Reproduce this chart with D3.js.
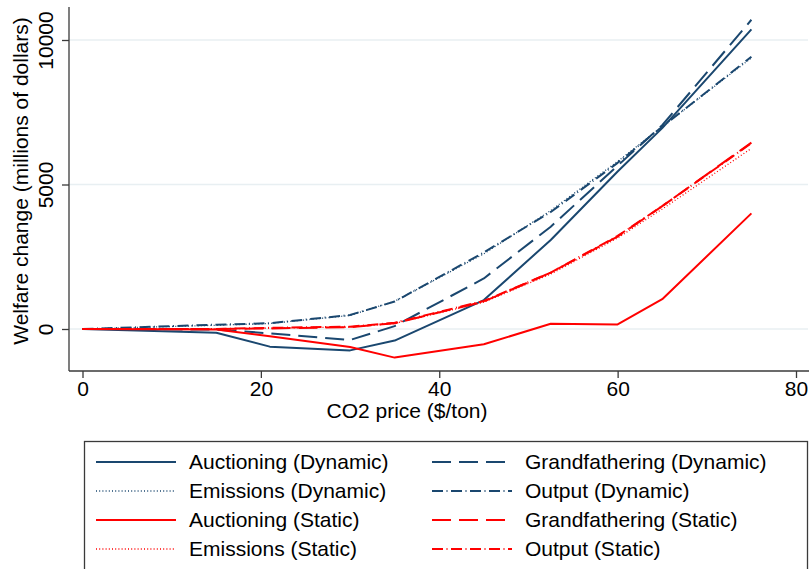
<!DOCTYPE html>
<html>
<head>
<meta charset="utf-8">
<script src="https://cdn.jsdelivr.net/npm/d3@7"></script>
<style>
  html, body { margin: 0; padding: 0; background: #fff; }
  svg { display: block; }
  text { font-family: "Liberation Sans", Arial, Helvetica, sans-serif; fill: #000; }
</style>
</head>
<body>
<svg id="chart" width="809" height="569"></svg>
<script>
// CO2 price points ($/ton)
const price = [0, 15, 21, 30, 35, 45, 52.5, 60, 65, 75];

// Welfare change (millions of dollars) by allocation rule
const auctioningDynamic     = [0, -130, -610, -740, -400, 1000, 3080, 5450, 6950, 10370];
const grandfatheringDynamic = [0, -20, -150, -380, 100, 1750, 3540, 5650, 7050, 10700];
const emissionsDynamic      = [0, 130, 190, 470, 960, 2600, 4100, 5800, 7000, 9380];
const outputDynamic         = [0, 150, 200, 485, 950, 2650, 4050, 5750, 7000, 9420];
const auctioningStatic      = [0, -20, -250, -620, -990, -530, 180, 160, 1030, 4000];
const grandfatheringStatic  = [0, 0, 20, 60, 200, 950, 1950, 3200, 4250, 6450];
const emissionsStatic       = [0, 0, 30, 70, 190, 930, 1900, 3150, 4150, 6250];
const outputStatic          = [0, 0, 40, 80, 215, 970, 1950, 3220, 4250, 6430];

const xTicks = [0, 20, 40, 60, 80];
const yTicks = [0, 5000, 10000];

const navy = "#1a476f";
const red = "#ff0000";
const FS = 21;

// line styles
const SOLID = null, LONGDASH = "19,8", DOT = "1,2.2", DASHDOT = "11,3.5,1,3.5";

const series = [
  { name: "Auctioning (Dynamic)",     values: auctioningDynamic,     color: navy, dash: SOLID,    w: 2 },
  { name: "Grandfathering (Dynamic)", values: grandfatheringDynamic, color: navy, dash: LONGDASH, w: 2 },
  { name: "Emissions (Dynamic)",      values: emissionsDynamic,      color: navy, dash: DOT,      w: 1.3 },
  { name: "Output (Dynamic)",         values: outputDynamic,         color: navy, dash: DASHDOT,  w: 2 },
  { name: "Auctioning (Static)",      values: auctioningStatic,      color: red,  dash: SOLID,    w: 2 },
  { name: "Grandfathering (Static)",  values: grandfatheringStatic,  color: red,  dash: LONGDASH, w: 2 },
  { name: "Emissions (Static)",       values: emissionsStatic,       color: red,  dash: DOT,      w: 1.3 },
  { name: "Output (Static)",          values: outputStatic,          color: red,  dash: DASHDOT,  w: 2 }
];

const svg = d3.select("#chart");

const plot = { left: 69, right: 809, top: 7, bottom: 371 };

const x = d3.scaleLinear().domain([0, 80]).range([82.5, 796]);
const y = d3.scaleLinear().domain([0, 10000]).range([329, 40]);

// horizontal gridlines
svg.append("g").selectAll("line").data(yTicks).join("line")
  .attr("x1", plot.left).attr("x2", 808)
  .attr("y1", d => y(d)).attr("y2", d => y(d))
  .attr("stroke", "#e8eff2").attr("stroke-width", 1.5);

// data lines
const line = d3.line().x((d, i) => x(price[i])).y(d => y(d));
svg.append("g").selectAll("path").data(series).join("path")
  .attr("d", s => line(s.values))
  .attr("fill", "none")
  .attr("stroke", s => s.color)
  .attr("stroke-width", s => s.w)
  .attr("stroke-dasharray", s => s.dash)
  .attr("stroke-linejoin", "round");

// x axis
const xAxis = d3.axisBottom(x).tickValues(xTicks).tickFormat(d3.format("d"))
  .tickSize(7).tickSizeOuter(0).tickPadding(3);
const gx = svg.append("g").attr("transform", `translate(0,${plot.bottom})`).call(xAxis);
gx.select(".domain").attr("d", `M${plot.left},0H${plot.right}`);
gx.selectAll("line, path").attr("stroke", "#3a3a3a").attr("stroke-width", 1.3);
gx.selectAll("text").attr("font-size", FS).attr("font-family", null).attr("fill", "#000");

// y axis
const yAxis = d3.axisLeft(y).tickValues(yTicks).tickFormat(d3.format("d"))
  .tickSize(7).tickSizeOuter(0);
const gy = svg.append("g").attr("transform", `translate(${plot.left},0)`).call(yAxis);
gy.select(".domain").attr("d", `M0,${plot.top}V${plot.bottom}`);
gy.selectAll("line, path").attr("stroke", "#3a3a3a").attr("stroke-width", 1.3);
gy.selectAll("text")
  .attr("font-size", FS).attr("font-family", null).attr("fill", "#000")
  .attr("x", null).attr("dy", null)
  .attr("text-anchor", "middle")
  .attr("transform", "translate(-16,0) rotate(-90)");

// axis titles
svg.append("text")
  .attr("x", 407).attr("y", 418)
  .attr("text-anchor", "middle").attr("font-size", FS)
  .text("CO2 price ($/ton)");

svg.append("text")
  .attr("transform", `translate(28,${(plot.top + 355) / 2}) rotate(-90)`)
  .attr("text-anchor", "middle").attr("font-size", FS)
  .text("Welfare change (millions of dollars)");

// legend
const legend = svg.append("g");
legend.append("rect")
  .attr("x", 84.5).attr("y", 441.5).attr("width", 723).attr("height", 140)
  .attr("fill", "#fff").attr("stroke", "#3a3a3a").attr("stroke-width", 1.3);

const rowY = [462, 491, 520, 549];
const colX = [96, 432];
series.forEach((s, i) => {
  const col = i % 2, row = Math.floor(i / 2);
  const g = legend.append("g").attr("transform", `translate(${colX[col]},${rowY[row]})`);
  g.append("line").attr("x1", 0).attr("x2", 80).attr("y1", 0).attr("y2", 0)
    .attr("stroke", s.color).attr("stroke-width", s.w)
    .attr("stroke-dasharray", s.dash);
  g.append("text").attr("x", 93).attr("y", 7).attr("font-size", FS).text(s.name);
});
</script>
</body>
</html>
